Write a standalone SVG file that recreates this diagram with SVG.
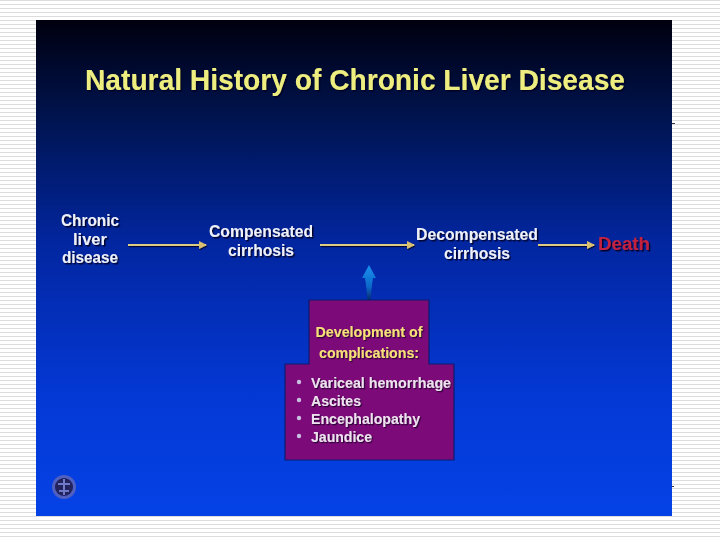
<svg xmlns="http://www.w3.org/2000/svg" width="720" height="540" viewBox="0 0 720 540">
<style>
text{font-family:"Liberation Sans",Arial,sans-serif;font-weight:bold;text-anchor:middle}
.w{fill:#eef0fa;font-size:16.5px;filter:url(#sh)}
.t{fill:#eeee80;font-size:30px;filter:url(#sh)}
.y{fill:#f7e07a;font-size:14.5px;filter:url(#sh2)}
.b{fill:#efe2f0;font-size:14.5px;text-anchor:start;filter:url(#sh2)}
.d{fill:#c8c0e0}
.c{stroke:#dccb80;stroke-width:2.2;fill:none;marker-end:url(#ah);filter:url(#ls)}
</style>
<defs>
<pattern id="st" width="4" height="4" patternUnits="userSpaceOnUse"><rect width="4" height="1" fill="#dcdcdc"/></pattern>
<linearGradient id="bg" x1="0" y1="0" x2="0" y2="1">
<stop offset="0" stop-color="#00000e"/><stop offset="0.1" stop-color="#000a30"/><stop offset="0.2" stop-color="#001450"/><stop offset="0.45" stop-color="#0226a0"/><stop offset="0.75" stop-color="#0438d4"/><stop offset="1" stop-color="#0542e6"/>
</linearGradient>
<linearGradient id="up" x1="0" y1="0" x2="0" y2="1"><stop offset="0" stop-color="#1a90f0"/><stop offset="0.55" stop-color="#0a68c8"/><stop offset="1" stop-color="#04104c"/></linearGradient>
<filter id="sh" x="-10%" y="-30%" width="120%" height="160%"><feGaussianBlur in="SourceGraphic" stdDeviation="0.5" result="s"/><feDropShadow in="s" dx="1.5" dy="1.5" stdDeviation="0.7" flood-color="#000020" flood-opacity="0.9"/></filter>
<filter id="sh2" x="-10%" y="-30%" width="120%" height="160%"><feGaussianBlur in="SourceGraphic" stdDeviation="0.5" result="s"/><feDropShadow in="s" dx="1.2" dy="1.2" stdDeviation="0.5" flood-color="#200030" flood-opacity="0.9"/></filter>
<filter id="ls" filterUnits="userSpaceOnUse" x="100" y="230" width="520" height="30"><feGaussianBlur in="SourceGraphic" stdDeviation="0.4" result="s"/><feDropShadow in="s" dx="0.8" dy="1.2" stdDeviation="0.5" flood-color="#000020" flood-opacity="0.8"/></filter>
<filter id="bl" x="-20%" y="-20%" width="140%" height="140%"><feGaussianBlur stdDeviation="0.7"/></filter>
<marker id="ah" markerUnits="userSpaceOnUse" markerWidth="10" markerHeight="10" refX="7" refY="5" orient="auto"><path d="M0 1L8 5L0 9z" fill="#d8c070"/></marker>
</defs>
<rect width="720" height="540" fill="#fff"/>
<rect width="720" height="540" fill="url(#st)"/>
<rect x="36" y="20" width="636" height="496" fill="url(#bg)"/>
<rect x="672" y="123" width="3" height="1" fill="#334"/>
<rect x="672" y="486" width="2" height="1" fill="#334"/>
<text id="title" class="t" x="355" y="90" textLength="540" lengthAdjust="spacingAndGlyphs">Natural History of Chronic Liver Disease</text>
<g id="connectors">
<line class="c" x1="128" y1="245" x2="206" y2="245"/>
<line class="c" x1="320" y1="245" x2="414" y2="245"/>
<line class="c" x1="538" y1="245" x2="594" y2="245"/>
<path d="M369 265L376 278L373 278L372 285L370 305L368 305L366 285L365 278L362 278z" fill="url(#up)" filter="url(#bl)"/>
</g>
<g id="node-chronic">
<text class="w" x="90" y="226" textLength="58" lengthAdjust="spacingAndGlyphs">Chronic</text>
<text class="w" x="90" y="245">liver</text>
<text class="w" x="90" y="263" textLength="56" lengthAdjust="spacingAndGlyphs">disease</text>
</g>
<g id="node-compensated">
<text class="w" x="261" y="237" textLength="104" lengthAdjust="spacingAndGlyphs">Compensated</text>
<text class="w" x="261" y="256" textLength="66" lengthAdjust="spacingAndGlyphs">cirrhosis</text>
</g>
<g id="node-decompensated">
<text class="w" x="477" y="240" textLength="122" lengthAdjust="spacingAndGlyphs">Decompensated</text>
<text class="w" x="477" y="259" textLength="66" lengthAdjust="spacingAndGlyphs">cirrhosis</text>
</g>
<g id="node-death"><text x="624" y="250" textLength="52" lengthAdjust="spacingAndGlyphs" style="fill:#c02040;font-size:18px;filter:url(#sh)">Death</text></g>
<g id="node-complications">
<path d="M309 300H429V364H454V460H285V364H309z" fill="#7c0a78" stroke="#0c1c70" stroke-width="1.2"/>
<text class="y" x="369" y="337" textLength="107" lengthAdjust="spacingAndGlyphs">Development of</text>
<text class="y" x="369" y="358" textLength="100" lengthAdjust="spacingAndGlyphs">complications:</text>
<circle class="d" cx="299" cy="382" r="2.2"/><circle class="d" cx="299" cy="400" r="2.2"/><circle class="d" cx="299" cy="418" r="2.2"/><circle class="d" cx="299" cy="436" r="2.2"/>
<text class="b" x="311" y="388" textLength="140" lengthAdjust="spacingAndGlyphs">Variceal hemorrhage</text>
<text class="b" x="311" y="406" textLength="50" lengthAdjust="spacingAndGlyphs">Ascites</text>
<text class="b" x="311" y="424" textLength="109" lengthAdjust="spacingAndGlyphs">Encephalopathy</text>
<text class="b" x="311" y="442" textLength="61" lengthAdjust="spacingAndGlyphs">Jaundice</text>
</g>
<g id="seal" filter="url(#bl)">
<circle cx="64" cy="487" r="12" fill="#5060c0"/>
<circle cx="64" cy="487" r="9" fill="#20205c"/>
<path d="M64 479V495M58 484H70M59 491H69" stroke="#7078c8" stroke-width="2"/>
</g>
</svg>
